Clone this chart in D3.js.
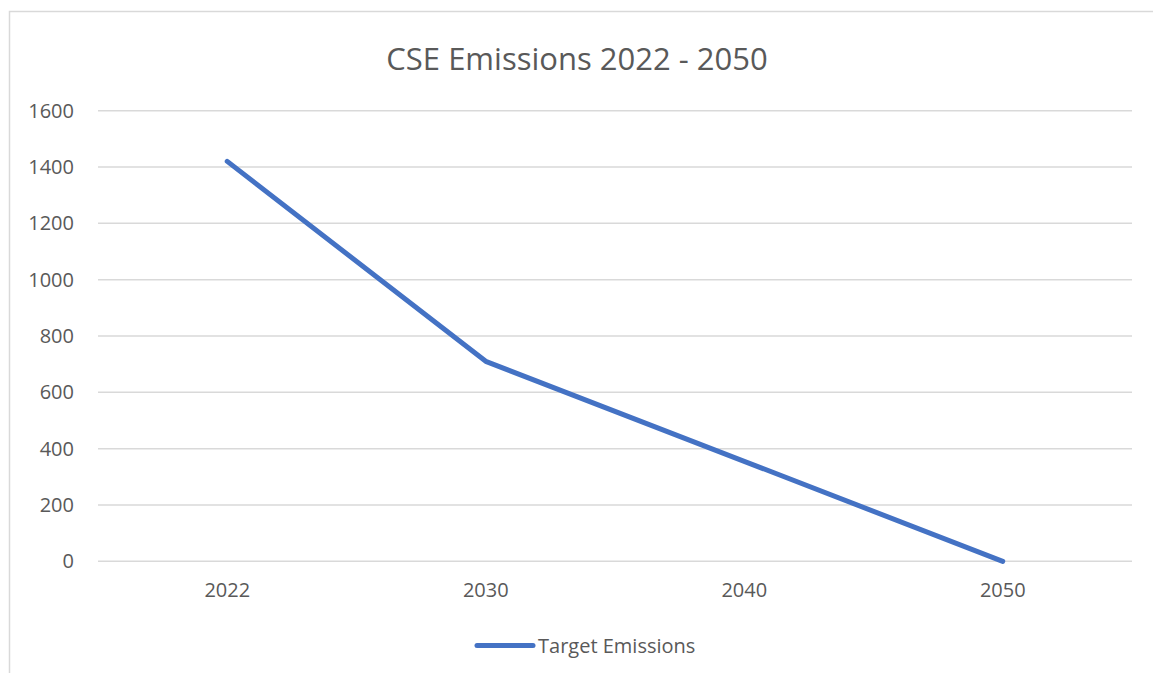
<!DOCTYPE html>
<html>
<head>
<meta charset="utf-8">
<script src="https://cdn.jsdelivr.net/npm/d3@7"></script>
<style>
  body { margin: 0; background: #fff; }
  svg { display: block; font-family: "Open Sans", sans-serif; }
</style>
</head>
<body>
<svg id="chart" width="1153" height="673"></svg>
<script>
// data
var years = ["2022", "2030", "2040", "2050"];
var targetEmissions = [1420, 710, 355, 0];
var yTicks = [0, 200, 400, 600, 800, 1000, 1200, 1400, 1600];
var seriesName = "Target Emissions";
var chartTitle = "CSE Emissions 2022 - 2050";

var svg = d3.select("#chart");
var margin = {left: 98, right: 21, top: 110.7, bottom: 111.7};
var width = 1153, height = 673;

// chart area border (runs off the right and bottom edges)
svg.append("rect")
    .attr("x", 9.5).attr("y", 11.5)
    .attr("width", 1200).attr("height", 700)
    .attr("fill", "none")
    .attr("stroke", "#d9d9d9")
    .attr("stroke-width", 1.5);

var x = d3.scaleBand()
    .domain(years)
    .range([margin.left, width - margin.right]);

var y = d3.scaleLinear()
    .domain([0, 1600])
    .range([height - margin.bottom, margin.top]);

// gridlines
svg.append("g")
    .selectAll("line")
    .data(yTicks)
    .join("line")
    .attr("x1", margin.left)
    .attr("x2", width - margin.right)
    .attr("y1", function(d) { return y(d); })
    .attr("y2", function(d) { return y(d); })
    .attr("stroke", "#d9d9d9")
    .attr("stroke-width", 1.5);

// y axis labels
var yAxis = d3.axisLeft(y).tickValues(yTicks).tickFormat(d3.format("d")).tickSize(0).tickPadding(24);
svg.append("g")
    .attr("transform", "translate(" + margin.left + ",0)")
    .call(yAxis)
    .call(function(g) { g.select(".domain").remove(); })
    .selectAll("text")
    .attr("font-family", "Open Sans, sans-serif")
    .attr("font-size", 20)
    .attr("fill", "#595959");

// x axis labels
var xAxis = d3.axisBottom(x).tickSize(0).tickPadding(22);
svg.append("g")
    .attr("transform", "translate(0," + y(0) + ")")
    .call(xAxis)
    .call(function(g) { g.select(".domain").remove(); })
    .selectAll("text")
    .attr("font-family", "Open Sans, sans-serif")
    .attr("font-size", 20)
    .attr("fill", "#595959");

// line
var line = d3.line()
    .x(function(d, i) { return x(years[i]) + x.bandwidth() / 2; })
    .y(function(d) { return y(d); });

svg.append("path")
    .datum(targetEmissions)
    .attr("d", line)
    .attr("fill", "none")
    .attr("stroke", "#4472c4")
    .attr("stroke-width", 5)
    .attr("stroke-linecap", "round")
    .attr("stroke-linejoin", "round");

// title
svg.append("text")
    .attr("x", 577)
    .attr("y", 70)
    .attr("text-anchor", "middle")
    .attr("font-size", 31)
    .attr("fill", "#595959")
    .text(chartTitle);

// legend
var legend = svg.append("g").attr("transform", "translate(477,645.5)");
legend.append("line")
    .attr("x1", 0).attr("x2", 56)
    .attr("stroke", "#4472c4")
    .attr("stroke-width", 5)
    .attr("stroke-linecap", "round");
legend.append("text")
    .attr("x", 61)
    .attr("y", 0)
    .attr("dy", "0.35em")
    .attr("font-size", 20)
    .attr("fill", "#595959")
    .text(seriesName);
</script>
</body>
</html>
